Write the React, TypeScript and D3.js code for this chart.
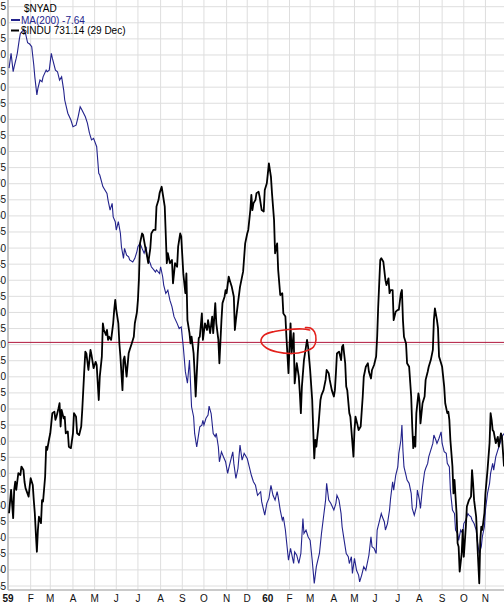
import * as d3 from "d3";

// x positions are trading-session numbers counted from the first session of Jan 1959
const monthStarts = [0, 22, 41, 63, 84, 105, 126, 148, 169, 190, 212, 232, 252, 273, 293, 316, 336, 356, 378, 399, 421, 442, 463];
const monthLabels = ["59", "F", "M", "A", "M", "J", "J", "A", "S", "O", "N", "D", "60", "F", "M", "A", "M", "J", "J", "A", "S", "O", "N"];
const yearLabels = ["59", "60"];
const lastSession = 481;

// $NYAD MA(200) [session, value]
const maPoints: [number, number][] = [
  [1, 105.9], [3, 110.5], [5, 104.8], [6, 106.4], [8, 109.0], [9, 110.5], [11, 114.9], [12, 116.7], [15, 117.8], [17, 116.7],
  [19, 113.8], [21, 113.4], [23, 112.6], [25, 106.9], [26, 103.2], [28, 97.6], [29, 99.6], [31, 102.2], [33, 101.7], [34, 103.2],
  [37, 105.3], [38, 104.8], [40, 105.3], [42, 110.5], [43, 109.0], [46, 105.3], [48, 104.8], [50, 102.2], [52, 103.2], [54, 99.1],
  [55, 96.0], [58, 91.9], [61, 89.8], [63, 87.7], [66, 88.2], [68, 90.8], [70, 93.9], [71, 93.4], [75, 90.8], [77, 88.8],
  [79, 85.7], [81, 83.6], [83, 84.1], [86, 81.5], [88, 73.2], [89, 72.7], [92, 69.1], [96, 67.0], [97, 64.9], [99, 61.8],
  [101, 63.9], [102, 59.7], [104, 58.2], [105, 55.6], [107, 58.2], [109, 54.6], [110, 50.4], [112, 46.8], [113, 49.9], [115, 47.8],
  [117, 47.3], [118, 46.3], [121, 45.7], [123, 46.8], [125, 48.9], [126, 50.4], [128, 51.5], [130, 49.9], [132, 48.4], [134, 50.4],
  [135, 47.3], [138, 45.2], [139, 44.2], [143, 42.6], [144, 43.2], [147, 42.1], [148, 44.2], [150, 41.1], [151, 38.5], [153, 35.9],
  [155, 36.9], [157, 33.8], [159, 31.8], [161, 28.7], [164, 26.6], [166, 25.0], [168, 25.5], [170, 19.3], [172, 11.6], [174, 8.0],
  [176, 15.2], [177, 8.0], [178, 0.7], [180, -2.4], [181, -7.6], [183, -11.8], [185, -7.6], [186, -5.5], [188, -5.0], [189, -3.5],
  [190, -5.0], [192, -2.9], [194, -1.9], [195, 0.9], [197, -1.4], [199, -7.6], [201, -8.6], [202, -7.6], [204, -11.8], [205, -16.4],
  [207, -13.3], [209, -14.9], [211, -16.4], [213, -20.0], [214, -18.5], [216, -15.9], [218, -13.3], [219, -16.9], [221, -21.6], [223, -18.5],
  [225, -11.2], [227, -15.9], [229, -13.8], [232, -15.4], [234, -18.0], [236, -20.6], [238, -22.6], [240, -23.7], [242, -26.8], [245, -25.7],
  [246, -28.8], [249, -33.0], [251, -29.3], [253, -27.8], [255, -23.7], [257, -26.8], [259, -28.3], [261, -25.7], [262, -27.3], [264, -31.4],
  [266, -34.5], [267, -33.5], [269, -37.6], [270, -40.8], [272, -47.0], [274, -43.3], [275, -44.9], [277, -48.0], [278, -44.4], [280, -45.4],
  [282, -48.0], [284, -44.9], [286, -34.0], [287, -38.7], [289, -37.6], [291, -39.7], [293, -40.8], [295, -47.0], [297, -54.2], [299, -49.0],
  [302, -44.9], [304, -38.7], [306, -33.5], [308, -28.3], [309, -23.1], [311, -28.3], [313, -29.3], [316, -31.4], [318, -29.3], [319, -26.8],
  [321, -28.3], [323, -32.5], [324, -36.6], [326, -40.8], [328, -44.9], [330, -45.9], [331, -48.0], [333, -45.9], [334, -51.1], [336, -46.4],
  [338, -50.1], [340, -51.6], [341, -53.7], [343, -51.6], [345, -49.0], [347, -50.1], [349, -47.0], [350, -45.4], [352, -39.7], [353, -42.8],
  [355, -43.3], [357, -44.9], [358, -37.6], [360, -35.1], [362, -32.5], [363, -33.5], [365, -35.1], [366, -37.6], [368, -35.6], [370, -31.4],
  [371, -27.8], [373, -22.6], [374, -25.2], [376, -20.6], [378, -18.0], [379, -13.8], [381, -9.7], [382, -5.0], [383, -12.8], [384, -18.0],
  [386, -20.6], [387, -22.1], [389, -23.1], [391, -26.2], [392, -30.9], [394, -33.0], [396, -30.4], [397, -25.2], [399, -28.3], [400, -30.9],
  [402, -24.2], [404, -19.5], [405, -18.5], [407, -16.9], [408, -14.9], [410, -12.8], [412, -10.7], [413, -8.1], [415, -9.7], [416, -10.7],
  [418, -9.1], [420, -7.1], [421, -10.7], [423, -13.3], [425, -13.8], [426, -16.9], [428, -18.0], [429, -25.2], [431, -31.4], [433, -32.5],
  [434, -37.6], [436, -38.7], [437, -40.8], [439, -37.6], [441, -38.7], [442, -35.6], [444, -34.5], [446, -32.5], [447, -33.0], [449, -33.5],
  [450, -34.5], [452, -35.6], [454, -37.6], [455, -40.8], [457, -44.9], [459, -42.8], [460, -39.7], [462, -36.6], [463, -31.4], [465, -26.2],
  [467, -23.1], [468, -20.0], [470, -16.9], [471, -19.0], [473, -14.9], [475, -12.8], [476, -11.8], [478, -9.7], [479, -8.6], [481, -7.6],
];

// $INDU close [session, value]
const induPoints: [number, number][] = [
  [1, 585.7], [3, 592.3], [5, 584.3], [6, 592.3], [7, 594.6], [8, 592.3], [10, 597.0], [12, 596.5], [13, 598.9], [15, 597.9],
  [16, 594.6], [17, 592.8], [20, 590.4], [21, 593.2], [22, 595.6], [24, 593.7], [25, 589.4], [26, 585.7], [27, 580.0], [28, 574.8],
  [29, 581.0], [30, 584.7], [32, 582.9], [33, 589.4], [34, 589.0], [36, 596.0], [37, 604.5], [38, 603.6], [40, 606.9], [41, 608.3],
  [43, 614.0], [45, 614.4], [46, 612.1], [47, 613.0], [49, 615.4], [50, 616.8], [51, 610.2], [52, 614.9], [54, 612.5], [55, 613.0],
  [56, 608.3], [58, 608.8], [59, 604.5], [61, 604.1], [63, 608.3], [64, 614.0], [66, 613.0], [67, 608.3], [69, 607.8], [71, 610.2],
  [72, 614.9], [74, 626.2], [75, 631.4], [76, 630.9], [78, 626.2], [80, 631.9], [81, 630.4], [83, 626.7], [85, 628.5], [86, 627.6],
  [88, 617.7], [89, 624.3], [91, 630.0], [92, 639.4], [93, 637.5], [95, 636.1], [96, 637.5], [97, 634.7], [98, 635.6], [100, 634.7],
  [102, 639.4], [103, 643.2], [104, 646.0], [105, 643.2], [107, 639.4], [108, 633.7], [109, 630.0], [111, 620.5], [112, 629.0], [113, 630.0],
  [115, 624.3], [117, 630.9], [118, 631.9], [120, 633.7], [122, 635.6], [123, 639.4], [125, 642.5], [126, 646.0], [127, 652.0], [128, 662.0],
  [130, 664.8], [131, 664.4], [133, 661.1], [135, 658.2], [136, 656.4], [138, 660.6], [139, 664.8], [141, 665.8], [143, 665.8], [144, 672.4],
  [146, 674.3], [147, 676.2], [149, 678.0], [151, 674.3], [152, 672.4], [154, 656.4], [155, 659.2], [157, 656.4], [159, 657.3], [160, 650.7],
  [162, 656.4], [164, 655.4], [165, 661.1], [167, 664.8], [168, 663.9], [170, 653.5], [172, 647.9], [173, 653.5], [174, 640.3], [176, 636.6],
  [177, 633.7], [178, 635.6], [180, 630.9], [181, 625.3], [182, 618.7], [184, 630.9], [185, 635.2], [186, 635.6], [188, 642.2], [189, 634.7],
  [191, 639.4], [193, 637.5], [194, 640.3], [196, 636.6], [198, 641.3], [199, 636.6], [201, 645.1], [202, 639.4], [204, 634.7], [205, 628.1],
  [207, 640.3], [208, 645.1], [210, 646.9], [211, 648.8], [212, 647.9], [214, 652.6], [215, 651.6], [217, 649.7], [219, 646.9], [220, 637.5],
  [221, 640.3], [223, 645.1], [225, 649.7], [227, 652.6], [228, 654.0], [230, 662.0], [232, 664.8], [233, 665.8], [235, 671.4], [236, 675.7],
  [237, 671.4], [238, 673.3], [240, 674.3], [241, 676.2], [243, 676.6], [244, 675.2], [246, 671.4], [248, 671.0], [249, 677.1], [251, 679.0],
  [252, 681.8], [253, 684.6], [255, 680.8], [256, 676.2], [258, 668.6], [259, 659.2], [261, 662.0], [262, 654.5], [264, 647.4], [266, 647.9],
  [267, 642.2], [269, 641.3], [270, 635.6], [272, 625.3], [273, 632.8], [274, 639.4], [275, 630.9], [277, 636.6], [278, 622.4], [280, 628.1],
  [282, 624.3], [283, 619.6], [284, 614.0], [285, 621.5], [287, 629.0], [288, 630.9], [290, 634.7], [291, 632.8], [293, 626.2], [295, 617.7],
  [296, 609.2], [297, 601.2], [298, 606.4], [299, 604.5], [301, 610.2], [303, 617.7], [304, 619.1], [306, 620.5], [308, 623.4], [309, 626.2],
  [311, 625.3], [312, 623.4], [314, 620.5], [316, 618.7], [317, 620.5], [318, 625.3], [319, 630.9], [321, 631.4], [323, 629.0], [324, 632.8],
  [325, 633.3], [327, 628.1], [328, 621.5], [329, 620.5], [331, 614.0], [332, 613.0], [334, 605.5], [335, 601.7], [336, 609.2], [337, 613.0],
  [339, 610.6], [340, 609.2], [342, 610.2], [344, 618.7], [345, 624.3], [347, 627.1], [349, 628.1], [350, 625.7], [352, 623.8], [353, 626.2],
  [355, 627.6], [357, 630.0], [358, 635.6], [359, 644.1], [361, 657.3], [362, 657.8], [364, 656.8], [366, 651.6], [367, 650.2], [369, 652.1],
  [370, 647.9], [371, 648.8], [373, 648.8], [374, 640.3], [376, 642.7], [378, 643.2], [379, 643.2], [381, 647.9], [382, 648.8], [383, 640.3],
  [384, 635.6], [386, 633.7], [387, 628.1], [389, 627.1], [391, 618.7], [392, 610.2], [393, 604.1], [394, 607.3], [395, 604.5], [396, 614.0],
  [398, 619.6], [399, 617.7], [400, 611.1], [402, 616.8], [404, 618.7], [405, 623.4], [407, 625.7], [408, 627.1], [410, 629.0], [412, 631.9],
  [413, 640.3], [414, 643.6], [416, 640.3], [417, 638.0], [418, 630.0], [420, 628.1], [421, 627.1], [423, 621.5], [424, 616.8], [426, 614.0],
  [427, 614.4], [428, 612.1], [429, 606.4], [431, 598.9], [432, 591.3], [433, 595.1], [435, 585.7], [436, 577.2], [437, 576.2], [438, 569.2],
  [440, 574.4], [441, 581.0], [442, 573.4], [444, 581.9], [445, 587.6], [447, 589.4], [449, 590.4], [450, 597.9], [451, 594.2], [452, 589.4],
  [454, 584.7], [455, 578.1], [457, 565.9], [458, 578.1], [459, 581.9], [460, 581.0], [462, 585.7], [463, 591.3], [465, 597.9], [467, 605.5],
  [468, 614.0], [469, 612.1], [470, 609.2], [471, 608.8], [473, 605.5], [475, 607.3], [476, 604.5], [478, 608.3], [479, 607.3], [481, 598.9],
];

// hand-drawn annotations (INDU level)
const redLevel = 634.0;
const circleCentre = { session: 272, value: 634.4 };
const circleOffsets: [number, number][] = [
  [17, -13.5], [22, -13], [26, -9], [27.5, -1], [25, 6], [16, 10.5], [3, 12.5], [-11, 11],
  [-22, 7], [-27.5, 0.5], [-24, -6], [-14, -9.5], [0, -11.5], [14, -12], [21, -11],
];

const width = 504;
const height = 611;
const left = 8;
const bottom = 590;
const font = "'Liberation Sans', Arial, sans-serif";

export default function App() {
  const x = d3.scaleLinear().domain([0, lastSession]).range([left, width]);
  const yMa = d3.scaleLinear().domain([-55, 125]).range([586, 6.7]);
  const yIndu = d3.scaleLinear().domain([566, 685]).range([582.9, 162]);
  const yTicks = d3.range(-55, 126, 5);

  const maLine = d3.line<[number, number]>()
    .x((d) => x(d[0]))
    .y((d) => yMa(d[1]));
  const induLine = d3.line<[number, number]>()
    .x((d) => x(d[0]))
    .y((d) => yIndu(d[1]));

  const cx = x(circleCentre.session);
  const cy = yIndu(circleCentre.value);
  const circlePath = d3.line<[number, number]>()
    .x((d) => cx + d[0])
    .y((d) => cy + d[1])
    .curve(d3.curveCatmullRom)(circleOffsets);

  return (
    <svg
      width={width}
      height={height}
      style={{ position: "absolute", left: 0, top: 0, background: "#fff" }}
      fontFamily={font}
      fontSize={10}
    >
      <rect width={width} height={height} fill="#fff" />
      {yTicks.map((t) => (
        <line key={`h${t}`} x1={left} x2={width} y1={yMa(t)} y2={yMa(t)} stroke="#dedede" strokeWidth={1} />
      ))}
      {monthStarts.map((s, i) => (
        <line key={`v${i}`} x1={x(s)} x2={x(s)} y1={0} y2={bottom} stroke="#dedede" strokeWidth={1} />
      ))}
      <line x1={left} x2={left} y1={0} y2={bottom} stroke="#b8b8b8" strokeWidth={1.6} />
      <line x1={left} x2={width} y1={bottom} y2={bottom} stroke="#b8b8b8" strokeWidth={1.6} />

      {yTicks.map((t) => (
        <text key={`yl${t}`} x={6} y={yMa(t)} textAnchor="end" dominantBaseline="central" fill="#111">
          {t}
        </text>
      ))}
      {monthStarts.map((s, i) => (
        <text
          key={`xl${i}`}
          x={x(s)}
          y={598}
          textAnchor="middle"
          dominantBaseline="central"
          fontWeight={yearLabels.includes(monthLabels[i]) ? "bold" : "normal"}
          fill="#111"
        >
          {monthLabels[i]}
        </text>
      ))}

      <line x1={left} x2={width} y1={yIndu(redLevel)} y2={yIndu(redLevel)} stroke="#b0163c" strokeWidth={1} />

      <path d={maLine(maPoints) ?? ""} fill="none" stroke="#23238c" strokeWidth={1.1} />
      <path d={induLine(induPoints) ?? ""} fill="none" stroke="#000" strokeWidth={1.8} strokeLinejoin="round" />

      <path d={circlePath ?? ""} fill="none" stroke="#e3201b" strokeWidth={1.6} strokeLinecap="round" />

      <text x={24} y={8.5} dominantBaseline="central" fill="#000">$NYAD</text>
      <line x1={11} x2={20} y1={20} y2={20} stroke="#23238c" strokeWidth={2} />
      <text x={21} y={20} dominantBaseline="central" fill="#23238c">MA(200) -7.64</text>
      <line x1={11} x2={19} y1={30.5} y2={30.5} stroke="#000" strokeWidth={2} />
      <text x={21} y={30.5} dominantBaseline="central" fill="#000">$INDU 731.14 (29 Dec)</text>
    </svg>
  );
}
